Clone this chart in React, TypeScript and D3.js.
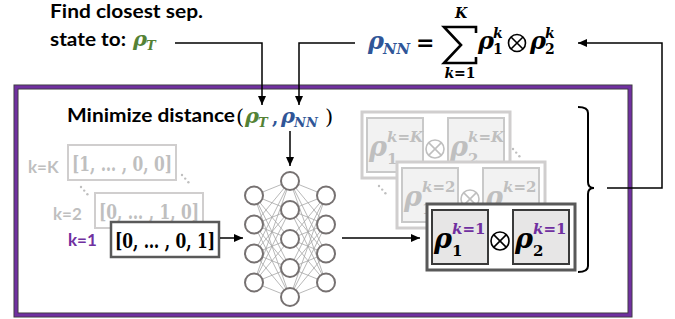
import React from 'react';
import * as d3 from 'd3';

// diagram content
const layerSizes = [4, 5, 4];
const vectorLabels = ['k=K', 'k=2', 'k=1'];
const vectorEntries = ['[1, … , 0, 0]', '[0, … , 1, 0]', '[0, … , 0, 1]'];
const productLabels = ['k=K', 'k=2', 'k=1'];

const W = 675;
const H = 319;
const GREEN = '#548235';
const BLUE = '#2F5597';
const PURPLE = '#7030A0';
const SANS = 'Lato, "Open Sans", sans-serif';
const SERIF = '"DejaVu Serif", "Liberation Serif", serif';

// placement of the stacked vector boxes and product boxes
const vecBoxes = [
  { x: 68, y: 145, lx: 28, ly: 173 },
  { x: 95, y: 193, lx: 53, ly: 220 },
  { x: 111, y: 222, lx: 68, ly: 246 },
];
const prodBoxes = [
  { x: 362, y: 112 },
  { x: 397, y: 162 },
  { x: 427, y: 204 },
];

const Otimes: React.FC<{ cx: number; cy: number; r: number; color: string }> = ({ cx, cy, r, color }) => {
  const d = r * Math.SQRT1_2;
  return (
    <g stroke={color} strokeWidth={1.6} fill="none">
      <circle cx={cx} cy={cy} r={r} />
      <line x1={cx - d} y1={cy - d} x2={cx + d} y2={cy + d} />
      <line x1={cx - d} y1={cy + d} x2={cx + d} y2={cy - d} />
    </g>
  );
};

const Dots: React.FC<{ x: number; y: number; color: string }> = ({ x, y, color }) => (
  <g fill={color}>
    {d3.range(3).map(i => (
      <circle key={i} cx={x + i * 3.2} cy={y + i * 3.6} r={1.2} />
    ))}
  </g>
);

// rho with subscript and optional superscript, all in one text element
const Rho: React.FC<{ x: number; y: number; size: number; color: string; sub: string; subItalic?: boolean; sup?: string; supColor?: string; subSize?: number; subDy?: number; supDy?: number; off?: number }> = ({ x, y, size, color, sub, subItalic, sup, supColor, subSize, subDy, supDy, off }) => {
  const o = off ?? size * 0.62;
  const ss = subSize ?? size * 0.62;
  return (
    <text x={x} y={y} fontFamily={SERIF} fontWeight="bold" fill={color}>
      <tspan fontSize={size} fontStyle="italic">ρ</tspan>
      <tspan x={x + o} y={y + (subDy ?? size * 0.2)} fontSize={ss} fontStyle={subItalic ? 'italic' : 'normal'}>{sub}</tspan>
      {sup && (
        <tspan x={x + o} y={y - (supDy ?? size * 0.45)} fontSize={ss} fill={supColor || color}>
          {sup.split('').map((c, i) => (
            <tspan key={i} fontStyle={/[kK]/.test(c) ? 'italic' : 'normal'}>{c}</tspan>
          ))}
        </tspan>
      )}
    </text>
  );
};

const App: React.FC = () => {
  const colX = d3.scalePoint<number>().domain(d3.range(layerSizes.length)).range([254, 326]);
  const rowY = (n: number) => d3.scaleLinear().domain([0, n - 1]).range([239 - (n - 1) * 14.5, 239 + (n - 1) * 14.5]);
  const nodes = layerSizes.map((n, l) => d3.range(n).map(i => ({ x: colX(l) as number, y: rowY(n)(i) })));
  const links: { x1: number; y1: number; x2: number; y2: number }[] = [];
  for (let l = 0; l < nodes.length - 1; l++) {
    nodes[l].forEach(a => nodes[l + 1].forEach(b => links.push({ x1: a.x, y1: a.y, x2: b.x, y2: b.y })));
  }

  return (
    <svg width={W} height={H} style={{ position: 'absolute', left: 0, top: 0, background: '#fff' }}>
      <defs>
        <marker id="ah" markerUnits="userSpaceOnUse" markerWidth={9} markerHeight={8} refX={9} refY={4} orient="auto">
          <path d="M0,0 L9,4 L0,8 Z" fill="#000" />
        </marker>
      </defs>

      {/* frame */}
      <rect x={16} y={87} width={614} height={228} fill="none" stroke="#3a3a3a" strokeWidth={5} />
      <rect x={16} y={87} width={614} height={228} fill="none" stroke={PURPLE} strokeWidth={3.2} />

      {/* top left caption */}
      <text x={50} y={18} fontFamily={SANS} fontWeight="bold" fontSize={18} textLength={153} lengthAdjust="spacingAndGlyphs">Find closest sep.</text>
      <text x={50} y={46} fontFamily={SANS} fontWeight="bold" fontSize={18} textLength={76} lengthAdjust="spacingAndGlyphs">state to:</text>
      <Rho x={133} y={46} size={21} color={GREEN} sub="T" subItalic />

      {/* top formula */}
      <Rho x={368} y={49} size={24} color={BLUE} sub="NN" subItalic />
      <text x={416} y={50} fontFamily={SERIF} fontWeight="bold" fontSize={22}>=</text>
      <path d="M476,33 L476,27 H444 L461,45 L444,63 H476 L476,57" fill="none" stroke="#000" strokeWidth={2.6} strokeLinejoin="miter" />
      <text x={461} y={18} textAnchor="middle" fontFamily={SERIF} fontWeight="bold" fontStyle="italic" fontSize={14}>K</text>
      <text x={460} y={78} textAnchor="middle" fontFamily={SERIF} fontWeight="bold" fontSize={14}>
        <tspan fontStyle="italic">k</tspan>=1
      </text>
      <Rho x={478} y={49} size={24} color="#000" sub="1" sup="k" subSize={14} off={15} />
      <Otimes cx={517} cy={43} r={8.5} color="#000" />
      <Rho x={530} y={49} size={24} color="#000" sub="2" sup="k" subSize={14} off={15} />

      {/* connectors */}
      <path d="M175,43 H262 V105" fill="none" stroke="#000" strokeWidth={1.5} markerEnd="url(#ah)" />
      <path d="M355,43 H299 V105" fill="none" stroke="#000" strokeWidth={1.5} markerEnd="url(#ah)" />
      <path d="M607,188 H662 V43 H578" fill="none" stroke="#000" strokeWidth={1.5} markerEnd="url(#ah)" />
      <path d="M578,107 Q588,107 588,113 V182 Q588,188 594,188 Q588,188 588,194 V266 Q588,272 578,272" fill="none" stroke="#000" strokeWidth={2} />

      {/* minimize line */}
      <text x={67} y={122} fontFamily={SANS} fontWeight="bold" fontSize={18} textLength={168} lengthAdjust="spacingAndGlyphs">Minimize distance</text>
      <text x={236} y={124} fontFamily={SERIF} fontSize={21}>(</text>
      <Rho x={245} y={123} size={21} color={GREEN} sub="T" subItalic />
      <text x={272} y={124} fontFamily={SERIF} fontWeight="bold" fontSize={18} fill={BLUE}>,</text>
      <Rho x={281} y={123} size={21} color={BLUE} sub="NN" subItalic />
      <text x={325} y={124} fontFamily={SERIF} fontSize={21}>)</text>
      <line x1={290} y1={131} x2={290} y2={166} stroke="#000" strokeWidth={1.5} markerEnd="url(#ah)" />

      {/* left vectors */}
      {vectorLabels.map((lab, i) => {
        const b = vecBoxes[i];
        const active = i === vectorLabels.length - 1;
        const col = active ? '#000' : '#BFBFBF';
        return (
          <g key={lab}>
            <text x={b.lx} y={b.ly} fontFamily={SANS} fontWeight="bold" fontSize={17} fill={active ? PURPLE : '#BFBFBF'}>{lab}</text>
            <rect x={b.x} y={b.y} width={108} height={35} fill="#fff" stroke={active ? '#595959' : '#D0CECE'} strokeWidth={active ? 2.5 : 2} />
            <text x={b.x + 54} y={b.y + 26} textAnchor="middle" fontFamily={SERIF} fontWeight="bold" fontSize={20} fill={col} textLength={100} lengthAdjust="spacingAndGlyphs">{vectorEntries[i]}</text>
          </g>
        );
      })}
      <Dots x={182} y={175} color="#BFBFBF" />
      <Dots x={81} y={187} color="#BFBFBF" />
      <line x1={220} y1={238} x2={243} y2={238} stroke="#000" strokeWidth={1.5} markerEnd="url(#ah)" />

      {/* neural network */}
      <g stroke="#A6A6A6" strokeWidth={0.8}>
        {links.map((d, i) => <line key={i} {...d} />)}
      </g>
      <g fill="#fff" stroke="#767171" strokeWidth={2}>
        {nodes.flat().map((d, i) => <circle key={i} cx={d.x} cy={d.y} r={9} />)}
      </g>
      <line x1={342} y1={238} x2={420} y2={238} stroke="#000" strokeWidth={1.5} markerEnd="url(#ah)" />

      {/* product boxes */}
      {productLabels.map((lab, i) => {
        const b = prodBoxes[i];
        const active = i === productLabels.length - 1;
        const txt = active ? '#000' : '#BFBFBF';
        const sup = active ? PURPLE : '#BFBFBF';
        return (
          <g key={lab}>
            <rect x={b.x} y={b.y} width={148} height={66} fill="#fff" stroke={active ? '#595959' : '#D0CECE'} strokeWidth={3} />
            {[0, 1].map(j => {
              const ix = b.x + 5 + j * 81;
              const iy = b.y + 6;
              return (
                <g key={j}>
                  <rect x={ix} y={iy} width={56} height={54} fill={active ? '#E7E6E6' : '#F2F2F2'} stroke={active ? '#3A3A3A' : '#C9C9C9'} strokeWidth={2} />
                  <Rho x={ix + 2} y={iy + 38} size={27} color={txt} sub={String(j + 1)} sup={lab} supColor={sup} subSize={15} off={18} subDy={8} supDy={14} />
                </g>
              );
            })}
            <Otimes cx={b.x + 73} cy={b.y + 37} r={9} color={active ? '#000' : '#BFBFBF'} />
          </g>
        );
      })}
      <Dots x={513} y={149} color="#BFBFBF" />
      <Dots x={379} y={186} color="#BFBFBF" />
    </svg>
  );
};

export default App;
